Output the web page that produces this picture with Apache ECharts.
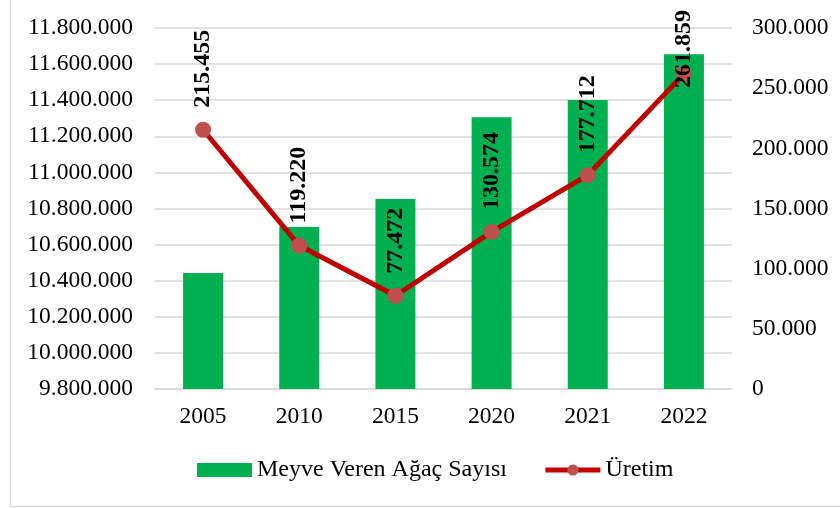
<!DOCTYPE html>
<html>
<head>
<meta charset="utf-8">
<title>Meyve Veren Ağaç Sayısı ve Üretim</title>
<script src="https://cdn.jsdelivr.net/npm/echarts@6/dist/echarts.min.js"></script>
<style>
  html, body { margin: 0; padding: 0; background: #fff; }
  #chart { width: 840px; height: 508px; }
</style>
</head>
<body>
<div id="chart"></div>
<script>
var years = ["2005", "2010", "2015", "2020", "2021", "2022"];
var agacSayisi = [10443000, 10697000, 10852000, 11305000, 11401000, 11655000];
var uretim = [215455, 119220, 77472, 130574, 177712, 261859];
var leftTicks = { min: 9800000, max: 11800000, step: 200000 };
var rightTicks = { min: 0, max: 300000, step: 50000 };

// Türkçe binlik ayırıcı (nokta)
function trNum(v) {
    return String(Math.round(v)).replace(/\B(?=(\d{3})+(?!\d))/g, ".");
}

var font = "'Liberation Serif', 'Times New Roman', serif";
var myChart = echarts.init(document.getElementById("chart"));

var lineData = uretim.map(function (v, i) {
    var item = { value: v };
    // son etiket üstte sığmadığı için aşağı kaydırılır
    if (i === uretim.length - 1) {
        item.label = { distance: -22 };
    }
    return item;
});

var option = {
    animation: false,
    textStyle: { fontFamily: font },
    graphic: [{
        type: "rect",
        shape: { x: 10.5, y: -5, width: 840, height: 511.5 },
        style: { fill: "none", stroke: "#d9d9d9", lineWidth: 1.5 },
        silent: true
    }],
    grid: { left: 155, right: 108, top: 28, bottom: 119 },
    legend: {
        bottom: 21,
        left: 192,
        itemGap: 36,
        itemWidth: 55,
        itemHeight: 14,
        textStyle: { fontFamily: font, fontSize: 24, color: "#000" },
        data: [
            { name: "Meyve Veren Ağaç Sayısı", icon: "rect" },
            { name: "Üretim", lineStyle: { width: 5, color: "#C00000" } }
        ]
    },
    xAxis: [{
        type: "category",
        data: years,
        axisTick: { show: false },
        axisLine: { lineStyle: { color: "#d9d9d9", width: 1.5 } },
        axisLabel: { color: "#000", fontSize: 23.5, fontFamily: font, margin: 16 }
    }],
    yAxis: [
        {
            type: "value",
            min: leftTicks.min,
            max: leftTicks.max,
            interval: leftTicks.step,
            axisLine: { show: false },
            axisTick: { show: false },
            splitLine: { lineStyle: { color: "#d9d9d9", width: 1.5 } },
            axisLabel: {
                color: "#000", fontSize: 23.5, fontFamily: font, margin: 22,
                formatter: trNum
            }
        },
        {
            type: "value",
            min: rightTicks.min,
            max: rightTicks.max,
            interval: rightTicks.step,
            axisLine: { show: false },
            axisTick: { show: false },
            splitLine: { show: false },
            axisLabel: {
                color: "#000", fontSize: 23.5, fontFamily: font, margin: 20,
                formatter: trNum
            }
        }
    ],
    series: [
        {
            name: "Meyve Veren Ağaç Sayısı",
            type: "bar",
            yAxisIndex: 0,
            barWidth: 40,
            itemStyle: { color: "#00B050" },
            data: agacSayisi
        },
        {
            name: "Üretim",
            type: "line",
            yAxisIndex: 1,
            symbol: "circle",
            symbolSize: 16,
            z: 5,
            lineStyle: { color: "#C00000", width: 5 },
            itemStyle: { color: "#C0504D" },
            label: {
                show: true,
                position: "top",
                distance: 14,
                rotate: 90,
                align: "left",
                verticalAlign: "middle",
                fontFamily: font,
                fontSize: 24,
                fontWeight: "bold",
                color: "#000",
                formatter: function (p) { return trNum(p.value); }
            },
            data: lineData
        }
    ]
};

myChart.setOption(option);
</script>
</body>
</html>
